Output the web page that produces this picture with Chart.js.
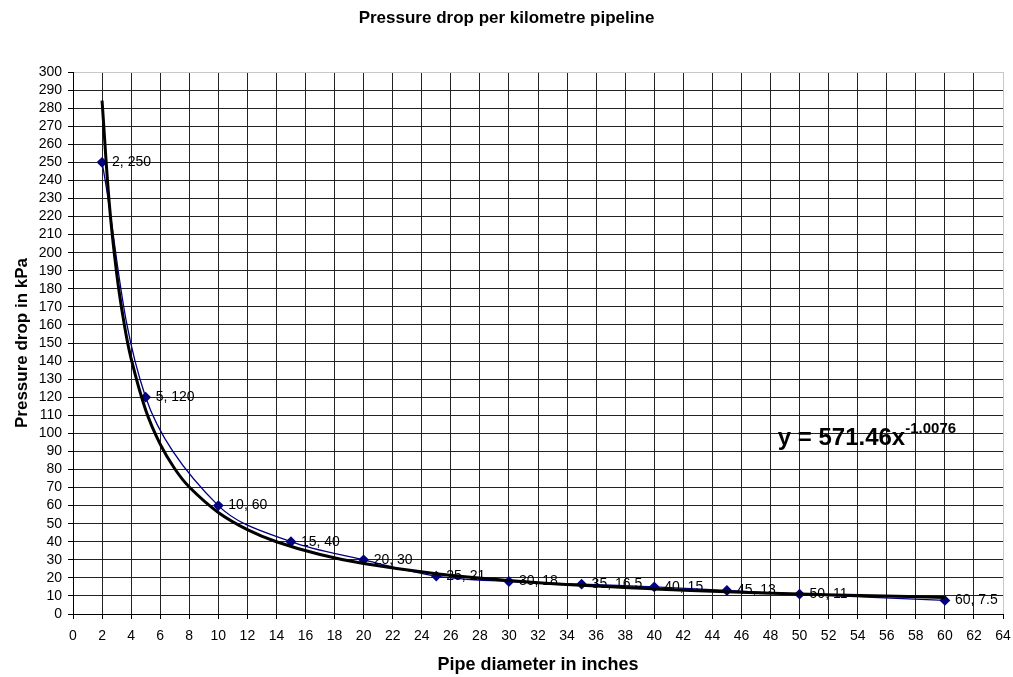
<!DOCTYPE html>
<html>
<head>
<meta charset="utf-8">
<title>Pressure drop per kilometre pipeline</title>
<script src="https://cdn.jsdelivr.net/npm/chart.js@4"></script>
<style>
  body { margin: 0; background: #fff; }
  #wrap { width: 1013px; height: 677px; }
</style>
</head>
<body>
<div id="wrap"><canvas id="pressureChart" width="1013" height="677"></canvas></div>
<script>
// measured points (pipe diameter in inches -> pressure drop in kPa)
const diameters = [2, 5, 10, 15, 20, 25, 30, 35, 40, 45, 50, 60];
const pressureDrop = [250, 120, 60, 40, 30, 21, 18, 16.5, 15, 13, 11, 7.5];

// power trendline
const trendX = [2, 2.5, 3, 3.5, 4, 5, 6, 7, 8, 10, 12, 14, 17, 20, 25, 30, 35, 40, 45, 50, 55, 60];
const trendY = [284.2, 227, 188.9, 161.7, 141.4, 112.9, 94, 80.4, 70.3, 56.2, 46.7, 40, 32.9, 27.9, 22.3, 18.6, 15.9, 13.9, 12.3, 11.1, 10.1, 9.2];

// axis ranges
const xRange = [0, 64, 2];
const yRange = [0, 300, 10];

// trendline equation label
const eqMain = "y = 571.46x";
const eqPower = "-1.0076";
const eqAt = [48.5, 93.5];

const FONT = '"Liberation Sans", Arial, sans-serif';
Chart.defaults.font.family = FONT;
Chart.defaults.color = '#000';

const labelPlugin = {
  id: 'pointLabels',
  afterDatasetDraw(chart, args) {
    if (args.index !== 1) return;
    const ctx = chart.ctx;
    ctx.save();
    ctx.font = '14px ' + FONT;
    ctx.fillStyle = '#000';
    ctx.textBaseline = 'middle';
    args.meta.data.forEach((pt, i) => {
      ctx.fillText(diameters[i] + ', ' + pressureDrop[i], pt.x + 10, pt.y);
    });
    ctx.restore();
  },
  afterDraw(chart) {
    const ctx = chart.ctx;
    const x = chart.scales.x.getPixelForValue(eqAt[0]);
    const y = chart.scales.y.getPixelForValue(eqAt[1]);
    ctx.save();
    ctx.fillStyle = '#000';
    ctx.textBaseline = 'alphabetic';
    ctx.font = 'bold 24px ' + FONT;
    ctx.fillText(eqMain, x, y);
    const w = ctx.measureText(eqMain).width;
    ctx.font = 'bold 15px ' + FONT;
    ctx.fillText(eqPower, x + w, y - 12);
    ctx.restore();
  }
};

function gridColor(c) {
  if (!c.tick) return '#222';
  const v = c.tick.value;
  return (v === yRange[1] && c.scale.axis === 'y') || (v === xRange[1] && c.scale.axis === 'x') ? '#c8c8c8' : '#222';
}

new Chart(document.getElementById('pressureChart'), {
  type: 'scatter',
  data: {
    datasets: [
      {
        label: 'Power trendline',
        data: trendX.map((x, i) => ({ x: x, y: trendY[i] })),
        showLine: true,
        borderColor: '#000',
        borderWidth: 3,
        pointRadius: 0,
        tension: 0.4
      },
      {
        label: 'Pressure drop',
        data: diameters.map((x, i) => ({ x: x, y: pressureDrop[i] })),
        showLine: true,
        borderColor: '#000080',
        borderWidth: 1.3,
        pointStyle: 'rectRot',
        pointRadius: 4.5,
        pointBackgroundColor: '#000080',
        pointBorderColor: '#000080',
        tension: 0.35
      }
    ]
  },
  options: {
    responsive: false,
    animation: false,
    layout: { padding: { left: 0, right: 0, top: 0, bottom: 0 } },
    plugins: {
      legend: { display: false },
      tooltip: { enabled: false },
      title: {
        display: true,
        text: 'Pressure drop per kilometre pipeline',
        font: { size: 17, weight: 'bold' },
        color: '#000',
        padding: { top: 8, bottom: 43.6 }
      }
    },
    scales: {
      x: {
        type: 'linear',
        min: xRange[0],
        max: xRange[1],
        ticks: { stepSize: xRange[2], autoSkip: false, maxRotation: 0, font: { size: 14 }, padding: 9 },
        grid: { color: gridColor, tickColor: '#000', tickLength: 5, lineWidth: 1 },
        border: { color: '#000', width: 1 },
        title: { display: true, text: 'Pipe diameter in inches', font: { size: 18, weight: 'bold' }, padding: { top: 0, bottom: 1 } },
        afterFit(scale) {
          scale.height = 63;
          scale.paddingLeft = 0;
          scale.paddingRight = 10;
        }
      },
      y: {
        type: 'linear',
        min: yRange[0],
        max: yRange[1],
        ticks: { stepSize: yRange[2], autoSkip: false, font: { size: 14 }, padding: 6 },
        grid: { color: gridColor, tickColor: '#000', tickLength: 5, lineWidth: 1 },
        border: { color: '#000', width: 1 },
        title: { display: true, text: 'Pressure drop in kPa', font: { size: 17, weight: 'bold' }, padding: { top: 12, bottom: 0 } },
        afterFit(scale) { scale.width = 73; }
      }
    }
  },
  plugins: [labelPlugin]
});
</script>
</body>
</html>
